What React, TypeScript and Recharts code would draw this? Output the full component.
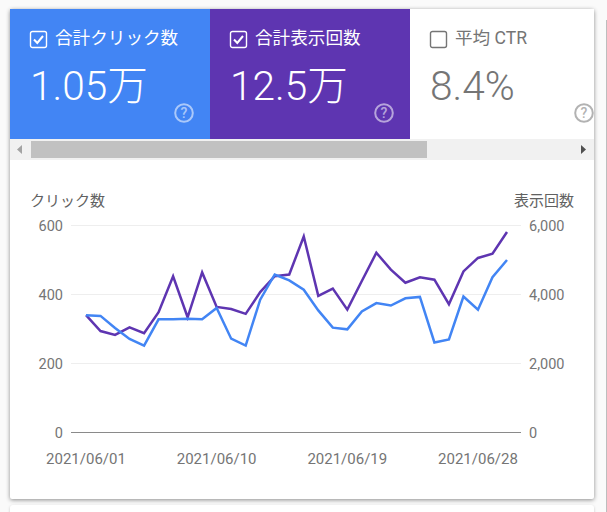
import { CartesianGrid, Line, LineChart, XAxis, YAxis } from "recharts";

const dates = [
  "2021/06/01", "2021/06/02", "2021/06/03", "2021/06/04", "2021/06/05", "2021/06/06",
  "2021/06/07", "2021/06/08", "2021/06/09", "2021/06/10", "2021/06/11", "2021/06/12",
  "2021/06/13", "2021/06/14", "2021/06/15", "2021/06/16", "2021/06/17", "2021/06/18",
  "2021/06/19", "2021/06/20", "2021/06/21", "2021/06/22", "2021/06/23", "2021/06/24",
  "2021/06/25", "2021/06/26", "2021/06/27", "2021/06/28", "2021/06/29", "2021/06/30",
];
const clicks = [
  340, 338, 303, 271, 252, 328, 328, 330, 328, 361, 272, 252, 385, 458, 441,
  414, 354, 304, 299, 351, 375, 368, 389, 393, 261, 270, 394, 356, 450, 500,
];
const impressions = [
  3400, 2940, 2830, 3050, 2880, 3490, 4530, 3340, 4640, 3640, 3580, 3440, 4070, 4530, 4580,
  5680, 3960, 4170, 3560, 4390, 5210, 4720, 4340, 4500, 4430, 3720, 4670, 5060, 5180, 5810,
];
const clickTicks = [0, 200, 400, 600];
const impressionTicks = [0, 2000, 4000, 6000];
const dateTicks = ["2021/06/01", "2021/06/10", "2021/06/19", "2021/06/28"];

const chartData = dates.map((date, i) => ({
  date,
  clicks: clicks[i],
  impressions: impressions[i],
}));

const FONT = "Roboto, 'Noto Sans CJK JP', sans-serif";

function Tile({ left, width, bg, color, label, value, checked, helpLeft }: {
  left: number;
  width: number;
  bg: string;
  color: string;
  label: string;
  value: string;
  checked: boolean;
  helpLeft: number;
}) {
  return (
    <div style={{ position: "absolute", left, top: 9, width, height: 130, background: bg, color, overflow: "hidden" }}>
      <svg width={20} height={20} style={{ position: "absolute", left: 19, top: 21 }}>
        <rect x={1.5} y={1.5} width={16} height={16} rx={2} fill="none" stroke={color} strokeWidth={1.4} />
        {checked && <path d="M5 9.5 L8.3 13 L14 6" fill="none" stroke={color} strokeWidth={2} />}
      </svg>
      <div style={{ position: "absolute", left: 45, top: 17, fontSize: 17.6, lineHeight: "24px", whiteSpace: "nowrap" }}>{label}</div>
      <div style={{ position: "absolute", left: 20, top: 52, fontSize: 40.6, fontWeight: 300, lineHeight: "50px", whiteSpace: "nowrap" }}>{value}</div>
      <svg width={22} height={22} style={{ position: "absolute", left: helpLeft, top: 93, opacity: 0.55 }}>
        <circle cx={11} cy={11} r={8.8} fill="none" stroke={color} strokeWidth={2} />
        <text x={11} y={16} textAnchor="middle" fontSize={14} fontWeight={500} fill={color} fontFamily={FONT}>?</text>
      </svg>
    </div>
  );
}

export default function App() {
  return (
    <div style={{ position: "absolute", left: 0, top: 0, width: 607, height: 512, background: "#fafafa", overflow: "hidden", fontFamily: FONT }}>
      <div style={{ position: "absolute", left: 606, top: 20, width: 1, height: 492, background: "#bdbdbd" }} />
      <div style={{ position: "absolute", left: 10, top: 505, width: 584, height: 30, background: "#fff", borderRadius: 3, boxShadow: "0 1px 3px rgba(0,0,0,0.2)" }} />
      <div style={{ position: "absolute", left: 10, top: 9, width: 584, height: 490, background: "#fff", borderRadius: 2, boxShadow: "0 1px 4px rgba(0,0,0,0.45)" }} />

      <Tile left={10} width={200} bg="#4285f4" color="#ffffff" label="合計クリック数" value="1.05万" checked helpLeft={163} />
      <Tile left={210} width={200} bg="#5e35b1" color="#ffffff" label="合計表示回数" value="12.5万" checked helpLeft={163} />
      <Tile left={410} width={184} bg="#ffffff" color="#757575" label="平均 CTR" value="8.4%" checked={false} helpLeft={163} />

      <div style={{ position: "absolute", left: 10, top: 139, width: 584, height: 21, background: "#f1f1f1" }}>
        <div style={{ position: "absolute", left: 21, top: 2, width: 396, height: 17, background: "#c1c1c1" }} />
        <svg width={584} height={21} style={{ position: "absolute", left: 0, top: 0 }}>
          <polygon points="12,6 12,15 7,10.5" fill="#a3a3a3" />
          <polygon points="571,6 571,15 576,10.5" fill="#505050" />
        </svg>
      </div>

      <div style={{ position: "absolute", left: 30, top: 191, fontSize: 15, lineHeight: "20px", color: "#616161" }}>クリック数</div>
      <div style={{ position: "absolute", right: 33, top: 191, fontSize: 15, lineHeight: "20px", color: "#616161" }}>表示回数</div>

      <div style={{ position: "absolute", left: 10, top: 160 }}>
        <LineChart width={584} height={338} data={chartData} margin={{ top: 65.5, right: 0, bottom: 0, left: 0 }}>
          <CartesianGrid yAxisId="clicks" vertical={false} stroke="#eeeeee" />
          <XAxis
            dataKey="date"
            ticks={dateTicks}
            interval={0}
            height={65.5}
            padding={{ left: 15, right: 14 }}
            tickLine={false}
            tickMargin={15}
            stroke="#8a8a8a"
            tick={{ fill: "#757575", fontSize: 15, fontFamily: FONT }}
          />
          <YAxis
            yAxisId="clicks"
            width={61}
            domain={[0, 600]}
            ticks={clickTicks}
            axisLine={false}
            tickLine={false}
            tickMargin={2}
            tick={{ fill: "#757575", fontSize: 14.5, fontFamily: FONT }}
          />
          <YAxis
            yAxisId="impressions"
            orientation="right"
            width={73}
            domain={[0, 6000]}
            ticks={impressionTicks}
            axisLine={false}
            tickLine={false}
            tickMargin={2}
            tickFormatter={(v: number) => v.toLocaleString("en-US")}
            tick={{ fill: "#757575", fontSize: 14.5, fontFamily: FONT }}
          />
          <Line yAxisId="impressions" dataKey="impressions" stroke="#5e35b1" strokeWidth={2.5} dot={false} isAnimationActive={false} />
          <Line yAxisId="clicks" dataKey="clicks" stroke="#4285f4" strokeWidth={2.5} dot={false} isAnimationActive={false} />
        </LineChart>
      </div>
    </div>
  );
}
